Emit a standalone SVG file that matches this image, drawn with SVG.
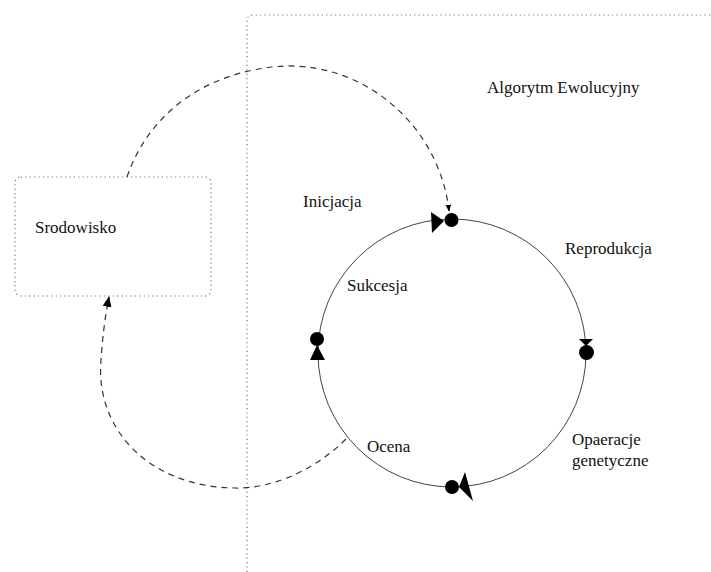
<svg xmlns="http://www.w3.org/2000/svg" width="711" height="572" viewBox="0 0 711 572">
<defs>
<marker id="ah" viewBox="0 0 10 10" refX="9" refY="5" markerWidth="7" markerHeight="7" markerUnits="userSpaceOnUse" orient="auto"><path d="M0,1 L10,5 L0,9 z" fill="#000"/></marker>
<marker id="ah2" viewBox="0 0 10 10" refX="9" refY="5" markerWidth="11" markerHeight="11" markerUnits="userSpaceOnUse" orient="auto"><path d="M0,1 L10,5 L0,9 z" fill="#000"/></marker>
</defs>
<g font-family="Liberation Serif" font-size="17" fill="#111">
<g id="frame"><path fill="none" stroke="#777" stroke-width="1.2" stroke-dasharray="1.2 3.2" d="M247,572 L247,21 Q247,15 253,15 L711,15"/><text x="487" y="93">Algorytm Ewolucyjny</text></g>
<g id="srodowisko"><rect fill="none" stroke="#777" stroke-width="1.2" stroke-dasharray="1.2 3.2" x="15" y="177" width="196" height="119" rx="6"/><text x="35" y="233">Srodowisko</text></g>
<g id="cycle"><circle fill="none" stroke="#444" stroke-width="1" cx="452" cy="353" r="134"/></g>
<g id="inicjacja" fill="#000"><circle cx="451.5" cy="220" r="7"/><polygon points="431,212 444,221 432,233"/><text x="303" y="207" fill="#111">Inicjacja</text></g>
<g id="reprodukcja" fill="#000"><circle cx="586.5" cy="352.5" r="7.5"/><polygon points="579,339 593,339 586,346"/><text x="565" y="254" fill="#111">Reprodukcja</text></g>
<g id="operacje" fill="#000"><circle cx="452" cy="487" r="7"/><polygon points="465,472 459,487 473,501"/><text x="572" y="445" fill="#111">Opaeracje</text><text x="572" y="466" fill="#111">genetyczne</text></g>
<g id="sukcesja" fill="#000"><circle cx="317" cy="339" r="7"/><polygon points="317,345 310,360 325,360"/><text x="347" y="291" fill="#111">Sukcesja</text></g>
<g id="ocena"><text x="367" y="452">Ocena</text></g>
</g>
<g id="connectors" fill="none" stroke="#333" stroke-width="1.2" stroke-dasharray="6 5">
<path d="M127,177 C150,110 210,70 285,66 C370,64 440,130 449,211" marker-end="url(#ah)"/>
<path d="M346,439 C310,475 265,489 235,488 C150,487 95,430 101,360 C103,330 106,312 109,297" marker-end="url(#ah2)"/>
</g>
</svg>
